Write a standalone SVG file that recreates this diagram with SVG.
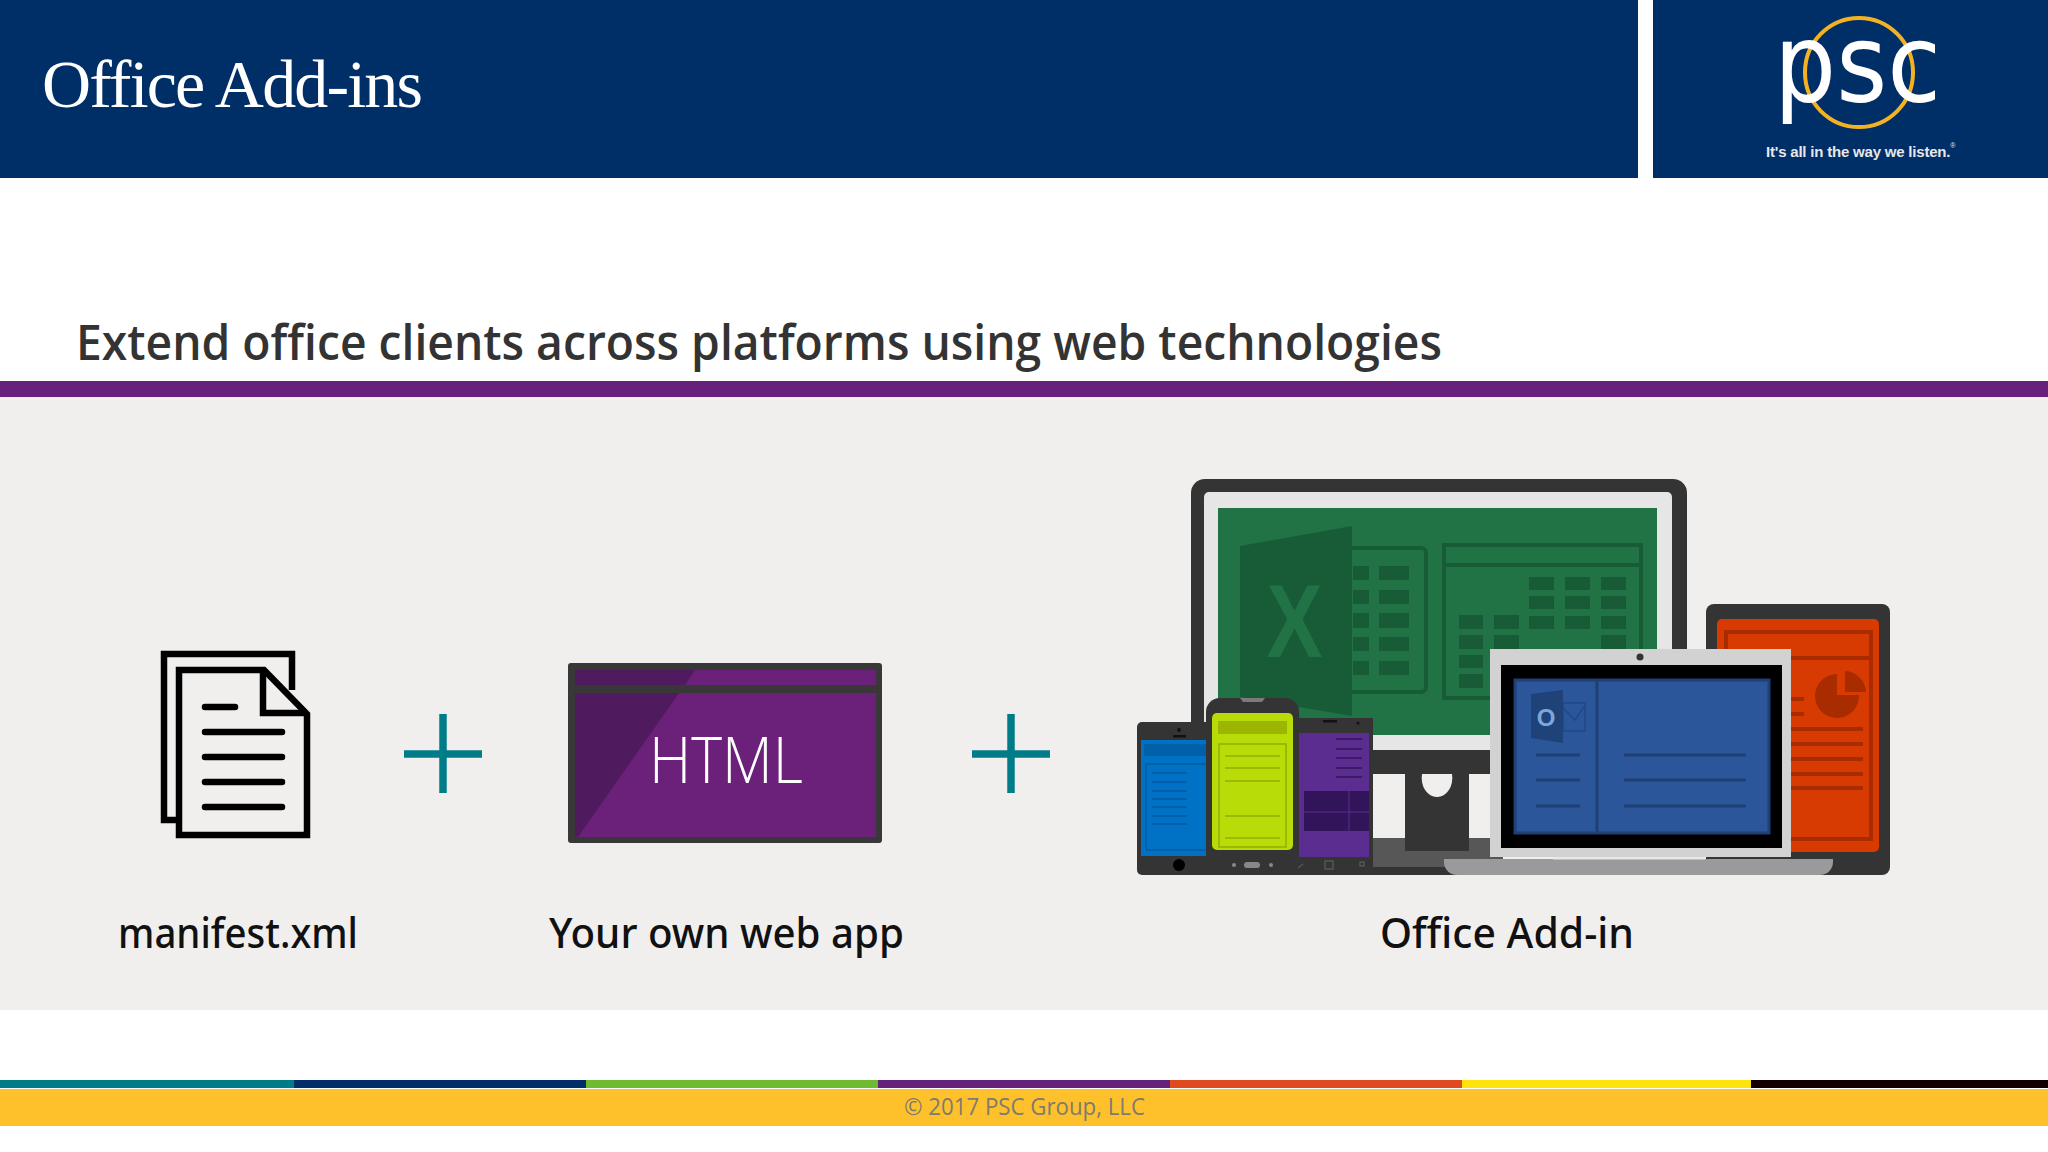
<svg xmlns="http://www.w3.org/2000/svg" width="2048" height="1152" viewBox="0 0 2048 1152">
<style>
.ui{font-family:"Open Sans","Noto Sans","Liberation Sans",sans-serif}
.lbl{font-family:"Noto Sans","Open Sans",sans-serif;font-size:41px;fill:#111;font-weight:500}
.plus{stroke:#007c89;stroke-width:7.5;fill:none}
.ink{fill:none;stroke:#000;stroke-width:6.5}
.inkl{stroke:#000;stroke-width:6.5;stroke-linecap:round;fill:none}
.gc{fill:#185c37}
.gs{fill:none;stroke:#185c37;stroke-width:4}
.bl{stroke:#1f3f75;stroke-width:3;fill:none}
.ol{stroke:#a92b00;stroke-width:4;fill:none}
.bp{stroke:#0058a3;stroke-width:1.5;fill:none}
.lm{stroke:#94ad00;stroke-width:1.5;fill:none}
.pu{stroke:#32145a;stroke-width:1.5;fill:none}
.dark{fill:#353434}
</style>
<rect width="2048" height="1152" fill="#fff"/>
<g id="header">
<rect width="1638" height="178" fill="#002e66"/>
<rect x="1653" width="395" height="178" fill="#002e66"/>
<text x="42" y="107" font-family="'Liberation Serif',serif" font-size="68" fill="#fff" textLength="381" lengthAdjust="spacing">Office Add-ins</text>
</g>
<g id="logo">
<ellipse cx="1859" cy="72.5" rx="54" ry="54.5" fill="none" stroke="#f4b223" stroke-width="4"/>
<text x="1774" y="101" font-family="'DejaVu Sans',sans-serif" font-size="108" fill="#fff" textLength="167" lengthAdjust="spacingAndGlyphs">psc</text>
<text x="1766" y="157" font-family="'Liberation Sans',sans-serif" font-weight="700" font-size="15" letter-spacing="-0.2" fill="#e8e8e8">It's all in the way we listen.<tspan dy="-9" font-size="7" font-weight="400" letter-spacing="0">®</tspan></text>
</g>
<g id="subtitle">
<text class="ui" x="76" y="360" font-size="48" font-weight="600" fill="#333" textLength="1366" lengthAdjust="spacingAndGlyphs">Extend office clients across platforms using web technologies</text>
</g>
<rect id="rule" y="381" width="2048" height="16" fill="#68217a"/>
<rect id="panel" y="397" width="2048" height="613" fill="#f0efee"/>

<g id="manifest">
<path class="ink" d="M176 820H164V654H292V690"/>
<path class="ink" d="M179 670H264L307 714V835H179Z"/>
<path class="ink" d="M263 670V713H307"/>
<path class="inkl" d="M205 707H235M205 732H282M205 757H282M205 782H282M205 807H282"/>
<text class="lbl" x="118" y="948" textLength="240" lengthAdjust="spacingAndGlyphs">manifest.xml</text>
</g>
<g id="plus1"><path class="plus" d="M404 754H482M443 714V793"/></g>
<g id="webapp">
<rect x="568" y="663" width="314" height="180" rx="3" fill="#383838"/>
<rect x="575" y="670" width="301" height="15" fill="#6b207a"/>
<rect x="575" y="693" width="301" height="144" fill="#6b207a"/>
<path d="M575 670H695L685 685H575Z" fill="#4f1a5e"/>
<path d="M575 693H679L578 837H575Z" fill="#4f1a5e"/>
<text class="ui" x="726" y="783" font-size="64" font-weight="300" fill="#fff" text-anchor="middle" textLength="154" lengthAdjust="spacingAndGlyphs">HTML</text>
<text class="lbl" x="549" y="948" textLength="355" lengthAdjust="spacingAndGlyphs">Your own web app</text>
</g>
<g id="plus2"><path class="plus" d="M972 754H1050M1011 714V793"/></g>

<g id="addin">
<g id="monitor">
<rect x="1373" y="838" width="130" height="29" fill="#575757"/>
<rect x="1373" y="867" width="200" height="8" class="dark"/>
<path class="dark" d="M1405 770H1469V851H1405Z"/>
<path d="M1422 774H1452A15 19 0 0 1 1437 797A15 19 0 0 1 1422 774Z" fill="#f0efee"/>
<rect x="1191" y="479" width="496" height="295" rx="14" class="dark"/>
<rect x="1204" y="492" width="468" height="258" rx="5" fill="#e6e6e6"/>
<rect x="1218" y="508" width="439" height="227" fill="#217346"/>
<rect class="gs" x="1345" y="548" width="81" height="144" rx="5"/>
<g class="gc">
<rect x="1353" y="566" width="16" height="14"/><rect x="1379" y="566" width="30" height="14"/>
<rect x="1353" y="590" width="16" height="14"/><rect x="1379" y="590" width="30" height="14"/>
<rect x="1353" y="613" width="16" height="15"/><rect x="1379" y="613" width="30" height="15"/>
<rect x="1353" y="637" width="16" height="14"/><rect x="1379" y="637" width="30" height="14"/>
<rect x="1353" y="661" width="16" height="14"/><rect x="1379" y="661" width="30" height="14"/>
</g>
<path class="gc" d="M1240 546L1352 526V716L1240 697Z"/>
<text x="1294.5" y="657" font-family="'Liberation Sans',sans-serif" font-weight="700" font-size="104" fill="#217346" text-anchor="middle" textLength="56" lengthAdjust="spacingAndGlyphs">X</text>
<rect class="gs" x="1444" y="545" width="197" height="153"/>
<path class="gs" d="M1444 565H1641"/>
<g class="gc">
<rect x="1529" y="577" width="25" height="13"/><rect x="1565" y="577" width="25" height="13"/><rect x="1601" y="577" width="25" height="13"/>
<rect x="1529" y="596" width="25" height="13"/><rect x="1565" y="596" width="25" height="13"/><rect x="1601" y="596" width="25" height="13"/>
<rect x="1459" y="615" width="24" height="14"/><rect x="1494" y="615" width="25" height="14"/><rect x="1529" y="616" width="25" height="13"/><rect x="1565" y="616" width="25" height="13"/><rect x="1601" y="616" width="25" height="13"/>
<rect x="1459" y="635" width="24" height="14"/><rect x="1494" y="635" width="25" height="14"/><rect x="1601" y="635" width="25" height="14"/>
<rect x="1459" y="655" width="24" height="13"/><rect x="1459" y="674" width="24" height="14"/>
</g>
</g>
<g id="tablet">
<rect x="1706" y="604" width="184" height="271" rx="8" class="dark"/>
<rect x="1717" y="619" width="162" height="233" rx="5" fill="#d83b01"/>
<rect class="ol" x="1726" y="632" width="145" height="207"/>
<path class="ol" stroke-width="6" d="M1726 658H1871"/>
<path d="M1837 674V695H1859A22 22 0 1 1 1837 674Z" fill="#a92b00"/>
<path d="M1845 671A22 22 0 0 1 1866 692H1845Z" fill="#a92b00"/>
<path class="ol" d="M1790 699H1804M1790 714H1804M1790 729H1863M1790 744H1863M1790 759H1863M1790 774H1863M1790 788H1863"/>
</g>
<g id="phone-blue">
<rect x="1137" y="722" width="80" height="153" rx="5" class="dark"/>
<rect x="1141" y="740" width="65" height="116" fill="#0072c6"/>
<rect x="1144" y="744" width="62" height="12" fill="#0060a8"/>
<path d="M1206 764H1146V850H1206" stroke="#0060a8" stroke-width="2" fill="none"/>
<path class="bp" d="M1152 773H1187M1152 782H1187M1152 791H1187M1152 799H1187M1152 807H1187M1152 816H1187M1152 824H1187"/>
<circle cx="1179" cy="730" r="2" fill="#111"/><rect x="1173" y="735" width="13" height="2.5" fill="#111"/>
<circle cx="1179" cy="865" r="6" fill="#000"/>
</g>
<g id="phone-lime">
<path class="dark" d="M1206 875V712A14 14 0 0 1 1220 698H1285A14 14 0 0 1 1299 712V875Z"/>
<path d="M1240 698H1265L1262 702H1243Z" fill="#7b7b7b"/>
<rect x="1212" y="713" width="81" height="137" rx="5" fill="#b8dc08"/>
<rect x="1218" y="721" width="69" height="13" fill="#9cb500"/>
<rect x="1219" y="744" width="67" height="103" fill="none" stroke="#94ad00" stroke-width="1.5"/>
<path class="lm" d="M1225 756H1280M1225 768H1280M1225 781H1280M1225 816H1280M1225 838H1280"/>
<circle cx="1234" cy="865" r="2" fill="#888"/><rect x="1244" y="862" width="16" height="6" rx="3" fill="#888"/><circle cx="1271" cy="865" r="2" fill="#888"/>
</g>
<g id="phone-purple">
<rect x="1299" y="718" width="74" height="157" class="dark"/>
<rect x="1299" y="733" width="70" height="124" fill="#5c2d91"/>
<path class="pu" d="M1336 739H1362M1336 749H1362M1336 758H1362M1336 768H1362M1336 777H1362"/>
<rect x="1304" y="791" width="65" height="40" fill="#32145a"/>
<path d="M1304 812H1369M1349 791V831" stroke="#5c2d91" stroke-width="1" fill="none"/>
<rect x="1323" y="720" width="14" height="2.5" fill="#111"/><circle cx="1358" cy="723" r="1.5" fill="#111"/>
<path d="M1298 868L1303 864M1325 861H1333V869H1325ZM1360 862h4v4h-4Z" stroke="#555" stroke-width="1.5" fill="none"/>
</g>
<g id="laptop">
<path d="M1444 859H1833V862A13 13 0 0 1 1820 875H1457A13 13 0 0 1 1444 862Z" fill="#9a999b"/>
<rect x="1553" y="857" width="152" height="2.5" fill="#e8e8e8"/>
<rect x="1490" y="649" width="301" height="208" fill="#d2d2d2"/>
<rect x="1501" y="665" width="281" height="183" fill="#000"/>
<circle cx="1640" cy="657" r="3.5" fill="#333"/>
<rect x="1515" y="680" width="254" height="153" fill="#2b579a" stroke="#1f3f75" stroke-width="3"/>
<path d="M1597 680V833" stroke="#1f3f75" stroke-width="3"/>
<rect x="1563" y="703" width="22" height="28" fill="none" stroke="#1f4a85" stroke-width="1.5"/>
<path d="M1563 708L1575 720L1585 705" fill="none" stroke="#1f4a85" stroke-width="1.5"/>
<path d="M1531 694L1563 690V743L1531 738Z" fill="#1f4279"/>
<text x="1546" y="726" font-family="'Liberation Sans',sans-serif" font-weight="700" font-size="24" fill="#7ea6d9" text-anchor="middle">O</text>
<path class="bl" d="M1536 755H1580M1536 780H1580M1536 806H1580M1624 755H1746M1624 780H1746M1624 806H1746"/>
</g>
<text class="lbl" x="1380" y="948" textLength="254" lengthAdjust="spacingAndGlyphs">Office Add-in</text>
</g>

<g id="footer">
<rect y="1089" width="2048" height="37" fill="#ffc12b"/>
<rect y="1080" width="294" height="8" fill="#007c89"/>
<rect x="294" y="1080" width="292" height="8" fill="#002e66"/>
<rect x="586" y="1080" width="292" height="8" fill="#6ebb2f"/>
<rect x="878" y="1080" width="292" height="8" fill="#68217a"/>
<rect x="1170" y="1080" width="292" height="8" fill="#e04a20"/>
<rect x="1462" y="1080" width="289" height="8" fill="#ffe30f"/>
<rect x="1751" y="1080" width="297" height="8" fill="#120000"/>
<text class="ui" x="904" y="1115" font-size="23" fill="#7f7b6e" textLength="241" lengthAdjust="spacingAndGlyphs">© 2017 PSC Group, LLC</text>
</g>
</svg>
